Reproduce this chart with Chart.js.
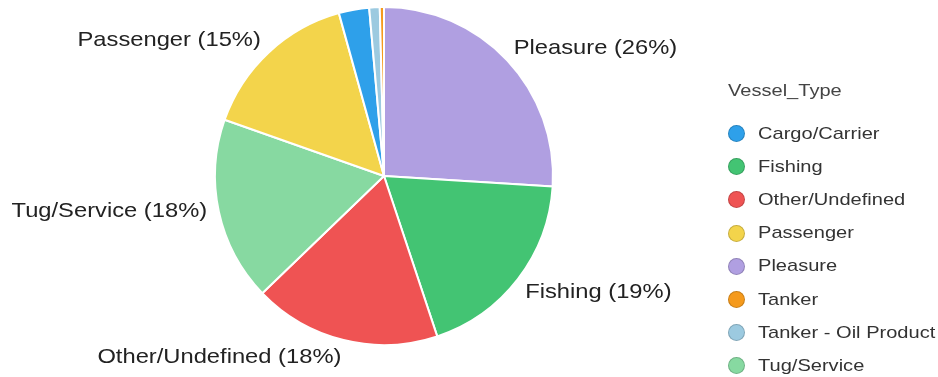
<!DOCTYPE html>
<html>
<head>
<meta charset="utf-8">
<script src="https://cdn.jsdelivr.net/npm/chart.js@4"></script>
<style>
  html, body { margin: 0; padding: 0; background: #fff; }
  #wrap { position: relative; width: 938px; height: 377px; }
  #legenda {
    position: absolute; left: 728px; top: 79px;
    font-family: Arial, "Liberation Sans", sans-serif; color: #333;
  }
  #legenda .titulo { font-size: 17px; height: 24px; line-height: 24px; margin-bottom: 14px; color: #444; }
  #legenda .item { display: flex; align-items: center; height: 33.2px; font-size: 17px; white-space: nowrap; }
  #legenda .titulo span, #legenda .item .texto {
    display: inline-block; transform: scaleX(1.18); transform-origin: left center;
  }
  #legenda .bola {
    width: 17px; height: 17px; border-radius: 50%; margin-right: 13px;
    box-sizing: border-box; border: 1px solid rgba(0,0,0,0.18);
  }
</style>
</head>
<body>
<div id="wrap">
  <canvas id="graficoNavios" width="938" height="377"></canvas>
  <div id="legenda"></div>
</div>
<script>
// fatias em sentido horário a partir do topo
const tiposNavio = ["Pleasure", "Fishing", "Other/Undefined", "Tug/Service", "Passenger", "Cargo/Carrier", "Tanker - Oil Product", "Tanker"];
const percentuais = [26.0, 18.9, 17.9, 17.6, 15.3, 2.9, 1.0, 0.4];
const coresFatias = ["#B09FE1", "#43C473", "#EF5353", "#87D9A1", "#F3D44B", "#2EA0EA", "#9CCAE0", "#F59A1C"];
const tituloLegenda = "Vessel_Type";

// rótulos fora da pizza, só para fatias grandes
const rotulosExternos = {
  id: "rotulosExternos",
  afterDatasetsDraw(chart) {
    const ctx = chart.ctx;
    const meta = chart.getDatasetMeta(0);
    const dados = chart.data.datasets[0].data;
    const total = dados.reduce((acc, v) => acc + v, 0);
    const esticar = 1.13;
    ctx.save();
    ctx.font = "21px Arial, 'Liberation Sans', sans-serif";
    ctx.fillStyle = "#222";
    ctx.textBaseline = "middle";
    meta.data.forEach((arco, i) => {
      const pct = dados[i] / total * 100;
      if (pct < 5) return;
      const meio = (arco.startAngle + arco.endAngle) / 2;
      const r = arco.outerRadius + 13;
      const x = arco.x + Math.cos(meio) * r;
      // afasta um pouco os rótulos na vertical
      const dy = Math.sin(meio) > 0.5 ? 5 : -3;
      const y = arco.y + Math.sin(meio) * r + dy;
      const texto = `${chart.data.labels[i]} (${Math.round(pct)}%)`;
      const largura = ctx.measureText(texto).width * esticar;
      const esquerda = x >= arco.x ? x - 3 : x - largura + 1;
      ctx.save();
      ctx.translate(esquerda, y);
      ctx.scale(esticar, 1);
      ctx.textAlign = "left";
      ctx.fillText(texto, 0, 0);
      ctx.restore();
    });
    ctx.restore();
  }
};

const grafico = new Chart(document.getElementById("graficoNavios"), {
  type: "pie",
  data: {
    labels: tiposNavio,
    datasets: [{
      data: percentuais,
      backgroundColor: coresFatias,
      borderColor: "#fff",
      borderWidth: 2,
    }],
  },
  options: {
    responsive: false,
    animation: false,
    layout: { padding: { left: 214, right: 384, top: 6, bottom: 31 } },
    plugins: {
      legend: { display: false },
      tooltip: { enabled: false },
    },
  },
  plugins: [rotulosExternos],
});

// legenda em ordem alfabética
function montarLegenda(chart) {
  const legenda = document.getElementById("legenda");
  legenda.innerHTML = "";
  const titulo = document.createElement("div");
  titulo.className = "titulo";
  const tituloTexto = document.createElement("span");
  tituloTexto.textContent = tituloLegenda;
  titulo.appendChild(tituloTexto);
  legenda.appendChild(titulo);

  const itens = chart.options.plugins.legend.labels.generateLabels(chart)
    .sort((a, b) => a.text.localeCompare(b.text));
  itens.forEach(item => {
    const linha = document.createElement("div");
    linha.className = "item";
    const bola = document.createElement("span");
    bola.className = "bola";
    bola.style.background = item.fillStyle;
    const texto = document.createElement("span");
    texto.className = "texto";
    texto.textContent = item.text;
    linha.appendChild(bola);
    linha.appendChild(texto);
    legenda.appendChild(linha);
  });
}

montarLegenda(grafico);
</script>
</body>
</html>
